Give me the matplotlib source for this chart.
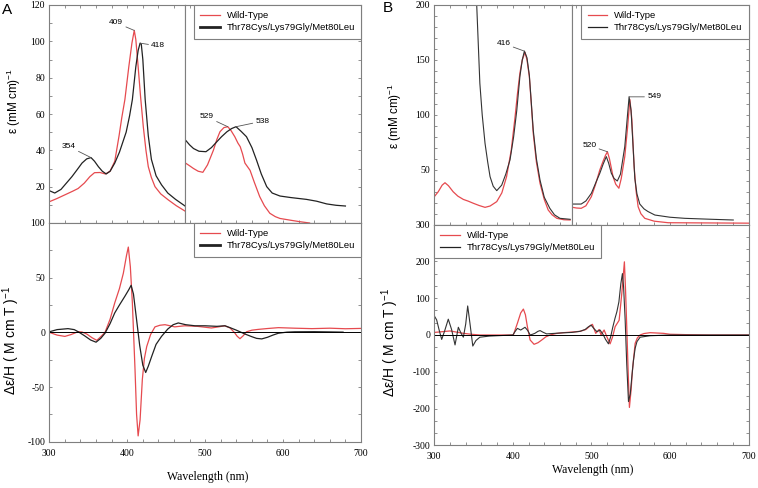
import matplotlib
matplotlib.use('Agg')
import matplotlib.pyplot as plt
from matplotlib.ticker import MultipleLocator, AutoMinorLocator
from matplotlib.lines import Line2D

plt.rcParams['font.family'] = ['Liberation Serif', 'DejaVu Serif']
plt.rcParams['mathtext.default'] = 'regular'
plt.rcParams['axes.unicode_minus'] = False

RED = '#e64a4f'
GRAY = '#7f7f7f'
SANS = ['Liberation Sans', 'DejaVu Sans']
LABELS = ['Wild-Type', 'Thr78Cys/Lys79Gly/Met80Leu']

# ---- Panel A: absorption, Soret region (left sub-axes) ----
a_soret_wl_wt = [300, 310, 320, 330, 337, 345, 352, 358, 365, 372, 378, 384, 389.5, 393, 397,
                 402, 406, 409, 411, 414, 417, 420.6, 424, 427, 431, 435.6, 443, 452.7, 463, 474]
a_soret_wt = [11.7, 13.5, 15.5, 17.5, 19, 22, 25.5, 27.7, 27.8, 27, 28.5, 34, 48, 58, 68,
              86, 99, 106, 101, 86, 70, 53, 40, 31, 25, 20, 16, 12.7, 9.5, 6.6]
a_soret_wl_mut = [300, 307, 315, 322, 329, 336, 342, 348, 353.5, 358, 363, 368, 373, 378, 384,
                  390, 398.6, 403, 406.6, 411, 414, 416.5, 418, 420, 423, 427, 431, 437, 444,
                  452, 462, 474]
a_soret_mut = [17.8, 16.5, 18.5, 22, 25.5, 29.5, 33, 35.3, 36, 34, 31, 28.5, 27, 28.5, 33,
               39, 50, 59, 68, 86, 95, 99, 98.5, 90, 68, 48, 35, 26, 21, 16.5, 13, 9.4]

# ---- Panel A: absorption, Q-band region (right sub-axes, expanded scale) ----
a_q_wl_wt = [474, 480, 485, 491, 497, 503, 510.5, 515, 519, 524, 529, 533, 538, 542, 545,
             548, 551, 557.6, 563, 570, 576, 583, 590, 596, 610, 621, 634]
a_q_wt = [6.64, 6.3, 6.0, 5.7, 5.58, 6.4, 8.0, 9.2, 10.05, 10.5, 10.6, 10.2, 9.5, 8.8, 8.4,
          7.6, 6.6, 5.8, 4.5, 2.9, 1.9, 1.07, 0.7, 0.5, 0.3, 0.15, 0.0]
a_q_wl_mut = [474, 480, 485, 492, 501, 508, 515, 521, 528, 534, 539.6, 546, 553, 560, 566,
              572, 579, 586, 596, 610, 630, 643, 656, 668, 680]
a_q_mut = [9.2, 8.6, 8.2, 7.9, 7.85, 8.3, 8.95, 9.5, 10.05, 10.4, 10.6, 10.1, 9.5, 8.3, 6.9,
           5.4, 4.0, 3.3, 2.97, 2.8, 2.6, 2.4, 2.1, 1.95, 1.87]

# ---- Panel A: MCD ----
a_mcd_wl_wt = [300, 310, 320, 328, 337, 342, 348, 355, 361, 366, 371.5, 378, 384, 390, 395,
               399, 401.4, 404, 406.6, 410, 412, 414, 416.5, 419.4, 422, 425, 430, 435.6, 442,
               448.5, 455, 461, 467, 474, 490, 508, 517, 525, 532, 538, 541, 544.7, 549, 553,
               560, 568, 580, 594, 615, 637, 660, 680, 700]
a_mcd_wt = [0, -2.5, -3.7, -2, 0.6, 0.3, -1.5, -5, -7.3, -4, 0, 12, 27, 40, 54,
            70, 78, 60, 27, -34, -75, -94.7, -80, -43, -24, -13, -2, 5, 6.5,
            7, 6, 5, 5.5, 6, 5.5, 4, 5, 6, 4, -0.5, -3.5, -5.8, -3, 0.5,
            2, 2.7, 3.5, 4.3, 3.8, 3.4, 3.8, 3.3, 3.6]
a_mcd_wl_mut = [300, 310, 324, 332, 337, 345, 353, 360, 366, 371.5, 378, 384, 390, 397, 402,
                405, 408, 412, 416, 420, 423.7, 427, 431.4, 437, 444, 452, 459, 465.5, 475,
                487, 500, 515, 525.5, 533, 540, 551, 560, 566, 572.6, 580, 587, 594, 605,
                615, 640, 660, 677]
a_mcd_mut = [0.5, 2.5, 3.4, 2.5, 0.6, -3, -7, -9, -5.5, -0.8, 8, 17.8, 25, 33, 39,
             43, 35, 11.6, -12, -30, -36.7, -31, -22, -11, -3.7, 3, 7, 8.6, 7,
             6, 6, 5.5, 6, 4, 2, -1.5, -4, -5.5, -6, -4.5, -2.5, -0.8, 0.2,
             0.5, 0.6, 0.4, 0.2]

# ---- Panel B: absorption, Soret region ----
b_soret_wl_wt = [300, 305, 310, 313.6, 318, 324, 330, 337, 343, 349.7, 357, 364.6, 371, 379.5,
                 386, 392, 398, 402.8, 406, 409, 412, 415.5, 418, 421, 423.5, 426, 430, 434.6,
                 440, 445, 450, 456, 465, 473]
b_soret_wt = [25.5, 30, 36, 38.2, 35.5, 30, 26, 23, 21.5, 19.5, 17.5, 15.8, 17, 21,
              29, 43.7, 68, 98, 120, 138, 150, 157, 150, 135, 110, 83, 57, 37.7,
              23, 13.4, 9, 5.8, 4.5, 4.3]
b_soret_wl_mut = [350, 354, 358, 361, 364.6, 368, 371, 375, 379.5, 385.8, 391, 396.4, 401, 405,
                  409, 412, 414.7, 418, 421, 423.5, 426, 430, 434.6, 440, 447, 453, 460, 473]
b_soret_mut = [260, 200, 128.7, 100, 74, 57, 43.7, 35, 31, 36, 46, 59, 80, 104,
               135, 150, 158, 152, 136, 111, 86, 60, 40.6, 25, 15, 9, 5.8, 4.9]

# ---- Panel B: absorption, Q-band region (expanded scale) ----
b_q_wl_wt = [475.8, 481, 487, 493, 500, 505, 510.7, 515, 518, 520.4, 523, 527.6, 531, 535, 538,
             542.5, 546, 549, 551.5, 554.4, 557, 559.5, 563, 568, 580, 597.7, 650, 700]
b_q_wt = [3.96, 3.8, 3.73, 4.3, 6.4, 9, 12.45, 14.5, 15.8, 16.6, 15, 10.9, 9.2, 8.3, 10.5,
          15.5, 22, 28.5, 24, 13.2, 7.5, 4.1, 2.5, 1.45, 0.8, 0.45, 0.4, 0.35]
b_q_wl_mut = [475.8, 487, 493, 500, 505, 510.7, 515, 519, 522, 525.4, 529, 533, 537, 542.5, 546,
              548, 550.5, 553, 555.3, 558, 561.6, 567, 572, 580.8, 600, 619, 650, 680.6]
b_q_mut = [4.7, 4.7, 5.4, 7.15, 9.3, 11.7, 13.8, 15.5, 14, 11.7, 10.5, 9.95, 11.5, 17.75, 25,
           29.1, 26, 18, 10.5, 7, 4.7, 3.6, 3.0, 2.2, 1.7, 1.45, 1.25, 1.07]

# ---- Panel B: MCD ----
b_mcd_wl_wt = [300, 310, 320, 328, 337, 347, 358, 380, 400.6, 405.8, 410, 413.4, 416, 418.5,
               422, 427, 432, 436.8, 442, 447.4, 455, 464, 475, 485.6, 493, 498, 501.3, 505.5,
               509.8, 512.3, 516.2, 519.6, 523.8, 527, 530.2, 535.3, 538.7, 542, 543.5, 545,
               546.8, 548.4, 550.5, 552.3, 555.7, 558.5, 562, 567, 574.8, 591.8, 600, 620, 650, 700]
b_mcd_wt = [7, 9, 11, 8, 4.5, 2, 0, 0, 0, 32, 60, 70.5, 55, 22.6,
            -13.6, -25.3, -21, -13.6, -5, 0, 4, 6.3, 8, 10, 15, 24, 29, 4.5,
            15, 0, 13.6, -4.5, -24, -5, 22.6, 40, 113, 199, 120, 22.6,
            -100, -197, -150, -95, -22.6, -8, 0, 4, 6.3, 4.5, 2, 1, 0, 0]
b_mcd_wl_mut = [300, 303, 306, 309.4, 313, 317.8, 322, 326.4, 330.6, 334, 337, 340, 342.5, 345.5,
                349, 353, 358, 370, 379.5, 390, 400, 403, 405.8, 410, 415.5, 419, 422, 425,
                428, 432, 434.7, 438, 443, 450, 464, 475, 485.6, 492, 496, 499.6, 503, 507,
                511, 515.3, 518, 521.7, 524.5, 527.3, 530, 532.4, 535, 537.5, 539.5, 541, 543,
                545, 547.2, 549.5, 551.5, 553.5, 555.7, 558, 562, 574.8, 600, 650, 700]
b_mcd_mut = [52, 41, 15, -12, 10, 43, 15, -27, 21, 5, -6, 30, 79, 30,
             -30, -15, -6, -3, -2, -1, 0, 10, 18, 13.5, 21, 12, 0, 2,
             4.5, 10, 12, 8, 3, 4, 6, 7, 10, 15, 22, 27, 18, 9,
             13.5, 0, -12, -24, -5, 22, 45, 63, 90, 140, 167, 130, 40,
             -80, -181, -160, -113, -70, -36, -18, -6, -2, 0, 0, 0]

# peak labels: (label, wavelength, value)
a_soret_peaks = [('409', 409, 106), ('418', 416.5, 99), ('354', 353.5, 36)]
a_q_peaks = [('529', 529, 10.6), ('538', 539.6, 10.6)]
b_soret_peaks = [('416', 414.7, 158)]
b_q_peaks = [('549', 548, 29.1), ('520', 520.4, 16.6)]

W, H = 758, 488
fig = plt.figure(figsize=(W / 100, H / 100), dpi=100)


def add_px(x0, y0, x1, y1):
    return fig.add_axes([x0 / W, 1 - y1 / H, (x1 - x0) / W, (y1 - y0) / H])


def style(ax, top=True, left=True, right=True, labelleft=True, labelbottom=False):
    for s in ax.spines.values():
        s.set_color(GRAY)
        s.set_linewidth(0.8)
    ax.xaxis.set_major_locator(MultipleLocator(100))
    ax.xaxis.set_minor_locator(MultipleLocator(20))
    ax.tick_params(which='both', direction='in', length=2.5, width=0.6, color=GRAY,
                   labelsize=7, pad=3, top=top, left=left, right=right,
                   labelleft=labelleft, labelbottom=labelbottom)
    ax.tick_params(axis='x', pad=5)


def legend(ax, loc, black_lw):
    handles = [Line2D([], [], color=RED, lw=0.9), Line2D([], [], color='#222222', lw=black_lw)]
    leg = ax.legend(handles, LABELS, loc=loc, borderaxespad=0, fancybox=False,
                    edgecolor=GRAY, framealpha=1, prop={'family': SANS, 'size': 6.8},
                    handlelength=2.1, handletextpad=0.7, borderpad=0.65, labelspacing=0.35)
    leg.get_frame().set_linewidth(0.8)


def peaks(ax, items, offsets):
    for (lab, x, y), off in zip(items, offsets):
        ax.annotate(lab, xy=(x, y), xytext=off, textcoords='offset points',
                    ha='right' if off[0] < 0 else 'left', va='center',
                    fontsize=6, family=SANS,
                    arrowprops=dict(arrowstyle='-', color='#555555', lw=0.6,
                                    shrinkA=0, shrinkB=0))


def panel(x0, split_px, x1, ytop, ymid, ybot, split_wl, data, ylims, yticks, q_step):
    (s_wl_wt, s_wt, s_wl_mut, s_mut, q_wl_wt, q_wt, q_wl_mut, q_mut,
     m_wl_wt, m_wt, m_wl_mut, m_mut, mut_lw, mut_color) = data
    ax1 = add_px(x0, ytop, split_px, ymid)
    ax2 = add_px(split_px, ytop, x1, ymid)
    ax3 = add_px(x0, ymid, x1, ybot)

    ax1.plot(s_wl_wt, s_wt, color=RED, lw=0.9)
    ax1.plot(s_wl_mut, s_mut, color=mut_color, lw=mut_lw)
    ax1.set_xlim(300, split_wl)
    ax1.set_ylim(*ylims[0])
    style(ax1, right=False)
    ax1.set_yticks(yticks[0])
    ax1.yaxis.set_minor_locator(MultipleLocator(10))

    ax2.plot(q_wl_wt, q_wt, color=RED, lw=0.9)
    ax2.plot(q_wl_mut, q_mut, color=mut_color, lw=mut_lw)
    ax2.set_xlim(split_wl, 700)
    ax2.set_ylim(*ylims[1])
    style(ax2, left=False, labelleft=False)
    ax2.yaxis.set_major_locator(MultipleLocator(q_step))

    ax3.plot(m_wl_wt, m_wt, color=RED, lw=0.9)
    ax3.plot(m_wl_mut, m_mut, color=mut_color, lw=mut_lw)
    ax3.axhline(0, color='black', lw=0.7)
    ax3.set_xlim(300, 700)
    ax3.set_ylim(*ylims[2])
    style(ax3, top=False, labelbottom=True)
    ax3.set_yticks(yticks[2])
    return ax1, ax2, ax3


# ---------- Panel A ----------
A1, A2, A3 = panel(49.3, 185, 361, 5, 223, 441.7, 474.1,
                   (a_soret_wl_wt, a_soret_wt, a_soret_wl_mut, a_soret_mut,
                    a_q_wl_wt, a_q_wt, a_q_wl_mut, a_q_mut,
                    a_mcd_wl_wt, a_mcd_wt, a_mcd_wl_mut, a_mcd_mut, 0.9, '#222222'),
                   [(0, 120), (0, 24), (-100, 100)],
                   [range(20, 121, 20), None, range(-100, 101, 50)], 2)
A3.yaxis.set_minor_locator(MultipleLocator(25))
legend(A2, 'upper right', 2.0)
legend(A3, 'upper right', 2.0)
peaks(A1, a_soret_peaks, [(-8, 5.5), (8, -2), (-11, 8)])
peaks(A2, a_q_peaks, [(-10, 7), (14, 4)])

# ---------- Panel B ----------
B1, B2, B3 = panel(434.3, 572.3, 748.5, 5, 224.7, 445.3, 475.7,
                   (b_soret_wl_wt, b_soret_wt, b_soret_wl_mut, b_soret_mut,
                    b_q_wl_wt, b_q_wt, b_q_wl_mut, b_q_mut,
                    b_mcd_wl_wt, b_mcd_wt, b_mcd_wl_mut, b_mcd_mut, 0.8, '#333333'),
                   [(0, 200), (0, 50), (-300, 300)],
                   [range(50, 201, 50), None, range(-300, 301, 100)], 2.5)
B3.yaxis.set_minor_locator(AutoMinorLocator(3))
legend(B2, 'upper right', 0.9)
legend(B3, 'upper left', 0.9)
peaks(B1, b_soret_peaks, [(-10, 5.5)])
peaks(B2, b_q_peaks, [(13, 0), (-8, 4.5)])


# ---------- axis labels ----------
def ftext(x, y, s, **kw):
    fig.text(x / W, 1 - y / H, s, ha='center', va='center', **kw)


ftext(14, 101, r'ε (mM cm)$^{-1}$', rotation=90, fontsize=8.5, family=SANS)
ftext(11, 340, r'Δε/H ( M cm T )$^{-1}$', rotation=90, fontsize=10, family=SANS)
ftext(395, 116, r'ε (mM cm)$^{-1}$', rotation=90, fontsize=8.5, family=SANS)
ftext(390, 342, r'Δε/H ( M cm T )$^{-1}$', rotation=90, fontsize=10, family=SANS)
ftext(208, 477, 'Wavelength (nm)', fontsize=8.5)
ftext(593, 470, 'Wavelength (nm)', fontsize=8.5)
ftext(7.5, 9.5, 'A', fontsize=11, family=SANS)
ftext(387.5, 8.5, 'B', fontsize=11, family=SANS)

fig.savefig('out.png', dpi=100)
